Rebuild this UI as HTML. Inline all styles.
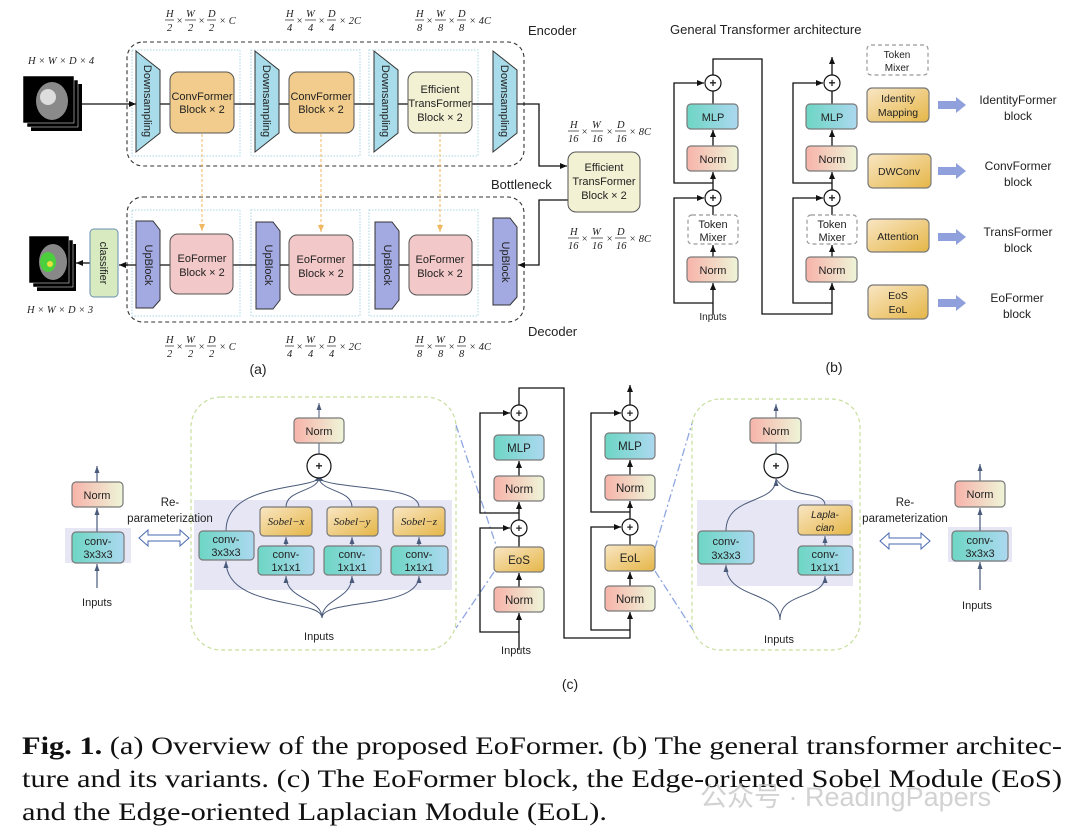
<!DOCTYPE html>
<html><head><meta charset="utf-8"><style>
html,body{margin:0;padding:0;background:#fff;}
svg{display:block;}
.s{font-family:"Liberation Sans",sans-serif;fill:#222;}
.m{font-family:"Liberation Serif",serif;font-style:italic;fill:#222;font-size:10.5px;}
.b{stroke:#7a7a7a;stroke-width:1.2;}
.ln{stroke:#111;stroke-width:1.3;fill:none;}
.fl{stroke:#222;stroke-width:0.7;}
</style></head><body>
<svg width="1080" height="836" viewBox="0 0 1080 836" xmlns="http://www.w3.org/2000/svg">
<defs>
<marker id="ar" markerWidth="8" markerHeight="8" refX="7" refY="4" orient="auto" markerUnits="userSpaceOnUse"><path d="M0,1 L7,4 L0,7 z" fill="#111"/></marker>
<marker id="ag" markerWidth="8" markerHeight="8" refX="7" refY="4" orient="auto" markerUnits="userSpaceOnUse"><path d="M0,1.5 L7,4 L0,6.5 z" fill="#4a5a7a"/></marker>
<marker id="ao" markerWidth="8" markerHeight="8" refX="7" refY="4" orient="auto" markerUnits="userSpaceOnUse"><path d="M0,1 L7,4 L0,7 z" fill="#f0b860"/></marker>
<linearGradient id="gn" x1="0" x2="1"><stop offset="0" stop-color="#f7b3aa"/><stop offset="1" stop-color="#eef5d8"/></linearGradient>
<linearGradient id="gm" x1="0" x2="1"><stop offset="0" stop-color="#6dd6c4"/><stop offset="1" stop-color="#acd8f0"/></linearGradient>
<linearGradient id="go" x1="0" y1="0" x2="1" y2="1"><stop offset="0" stop-color="#f9e6c4"/><stop offset="1" stop-color="#e5b647"/></linearGradient>
</defs>
<rect width="1080" height="836" fill="#fff"/>

<!-- ===== (a) ===== -->
<rect x="127" y="42" width="397" height="124" rx="16" fill="none" stroke="#333" stroke-width="1.1" stroke-dasharray="4,3"/>
<rect x="127" y="197" width="397" height="125" rx="16" fill="none" stroke="#333" stroke-width="1.1" stroke-dasharray="4,3"/>
<g fill="none" stroke="#a9d6e4" stroke-width="1" stroke-dasharray="1.5,1.5">
<rect x="132" y="50" width="108" height="106"/><rect x="251" y="50" width="109" height="106"/><rect x="369" y="50" width="109" height="106"/>
<rect x="132" y="210" width="108" height="106"/><rect x="251" y="210" width="109" height="106"/><rect x="369" y="210" width="109" height="106"/>
</g>
<line x1="82" y1="104" x2="136" y2="104" class="ln" marker-end="url(#ar)"/>
<line x1="160" y1="104" x2="493" y2="104" class="ln"/>
<polyline points="517,104 539,104 539,166 567,166" class="ln" marker-end="url(#ar)"/>
<polyline points="568,200 539,200 539,265 518,265" class="ln" marker-end="url(#ar)"/>
<line x1="160" y1="265" x2="493" y2="265" class="ln"/>
<line x1="136" y1="265" x2="119" y2="265" class="ln" marker-end="url(#ar)"/>
<line x1="90" y1="263" x2="76" y2="263" class="ln" marker-end="url(#ar)"/>
<g fill="#a8dcea" stroke="#333" stroke-width="1">
<path d="M136,51 L160,70 L160,133 L136,152 Z"/><path d="M255,51 L279,70 L279,133 L255,152 Z"/>
<path d="M374,51 L398,70 L398,133 L374,152 Z"/><path d="M493,51 L517,70 L517,133 L493,152 Z"/>
</g>
<g class="s" font-size="11">
<text transform="translate(144,101) rotate(90)" text-anchor="middle">Downsampling</text>
<text transform="translate(263,101) rotate(90)" text-anchor="middle">Downsampling</text>
<text transform="translate(382,101) rotate(90)" text-anchor="middle">Downsampling</text>
<text transform="translate(501,101) rotate(90)" text-anchor="middle">Downsampling</text>
</g>
<g fill="#a3aae2" stroke="#333" stroke-width="1">
<path d="M136,221 L153,221 L160,230 L160,300 L153,308 L136,308 Z"/>
<path d="M256,222 L273,222 L280,231 L280,300 L273,309 L256,309 Z"/>
<path d="M375,222 L392,222 L399,231 L399,300 L392,309 L375,309 Z"/>
<path d="M493,218 L510,218 L517,227 L517,297 L510,305 L493,305 Z"/>
</g>
<g class="s" font-size="11">
<text transform="translate(145,265) rotate(90)" text-anchor="middle">UpBlock</text>
<text transform="translate(265,265) rotate(90)" text-anchor="middle">UpBlock</text>
<text transform="translate(384,265) rotate(90)" text-anchor="middle">UpBlock</text>
<text transform="translate(502,262) rotate(90)" text-anchor="middle">UpBlock</text>
</g>
<rect x="170" y="72" width="64" height="61" rx="8" fill="#f1cc8c" stroke="#555"/>
<rect x="289" y="72" width="65" height="61" rx="8" fill="#f1cc8c" stroke="#555"/>
<rect x="408" y="72" width="64" height="61" rx="8" fill="#f3f1d3" stroke="#555"/>
<g class="s" font-size="11" text-anchor="middle">
<text x="202" y="100">ConvFormer</text><text x="202" y="113">Block × 2</text>
<text x="321" y="100">ConvFormer</text><text x="321" y="113">Block × 2</text>
<text x="440" y="93">Efficient</text><text x="440" y="107">TransFormer</text><text x="440" y="121">Block × 2</text>
</g>
<rect x="170" y="234" width="63" height="60" rx="8" fill="#f3c8c8" stroke="#555"/>
<rect x="289" y="235" width="64" height="60" rx="8" fill="#f3c8c8" stroke="#555"/>
<rect x="409" y="235" width="63" height="60" rx="8" fill="#f3c8c8" stroke="#555"/>
<g class="s" font-size="11" text-anchor="middle">
<text x="202" y="262">EoFormer</text><text x="202" y="276">Block × 2</text>
<text x="321" y="263">EoFormer</text><text x="321" y="277">Block × 2</text>
<text x="440" y="263">EoFormer</text><text x="440" y="277">Block × 2</text>
</g>
<g stroke="#f0b860" stroke-width="1" stroke-dasharray="3,2" fill="none">
<line x1="202" y1="134" x2="202" y2="231" marker-end="url(#ao)"/>
<line x1="321" y1="134" x2="321" y2="232" marker-end="url(#ao)"/>
<line x1="440" y1="134" x2="440" y2="232" marker-end="url(#ao)"/>
</g>
<rect x="568" y="152" width="72" height="60" rx="8" fill="#f3f1d3" stroke="#555"/>
<g class="s" font-size="11" text-anchor="middle">
<text x="604" y="171">Efficient</text><text x="604" y="185">TransFormer</text><text x="604" y="199">Block × 2</text>
</g>
<text x="491" y="189" class="s" font-size="13">Bottleneck</text>
<text x="528" y="35" class="s" font-size="13">Encoder</text>
<text x="528" y="336" class="s" font-size="13">Decoder</text>
<rect x="90" y="229" width="28" height="68" rx="4" fill="#d8ebc0" stroke="#6a8fb0"/>
<text transform="translate(100,263) rotate(90)" class="s" font-size="11" text-anchor="middle">classifier</text>
<g>
<rect x="31" y="84" width="51" height="47" fill="#000"/><rect x="27" y="80" width="51" height="47" fill="#000" stroke="#fff" stroke-width="0.5"/>
<rect x="23" y="76" width="51" height="47" fill="#000" stroke="#fff" stroke-width="0.5"/>
<ellipse cx="52" cy="101" rx="16" ry="19" fill="#8a8a8a"/><ellipse cx="48" cy="97" rx="8" ry="8" fill="#ddd"/>
<rect x="37" y="244" width="39" height="47" fill="#000"/><rect x="33" y="240" width="40" height="47" fill="#000" stroke="#fff" stroke-width="0.5"/>
<rect x="29" y="236" width="40" height="47" fill="#000" stroke="#fff" stroke-width="0.5"/>
<ellipse cx="53" cy="262" rx="14" ry="18" fill="#888"/><ellipse cx="48" cy="262" rx="8" ry="10" fill="#4ccf3c"/><circle cx="50" cy="264" r="3" fill="#e6e040"/>
</g>
<text x="28" y="64" class="m" font-size="11">H × W × D × 4</text>
<text x="27" y="313" class="m" font-size="11">H × W × D × 3</text>
<g class="m">
<g transform="translate(165,8)"><text x="1" y="9">H</text><text x="2" y="23">2</text><line x1="0" y1="12" x2="9" y2="12" class="fl"/><text x="11" y="16">×</text><text x="21" y="9">W</text><text x="23" y="23">2</text><line x1="20" y1="12" x2="31" y2="12" class="fl"/><text x="33" y="16">×</text><text x="43" y="9">D</text><text x="44" y="23">2</text><line x1="42" y1="12" x2="51" y2="12" class="fl"/><text x="54" y="16">× C</text></g>
<g transform="translate(285,8)"><text x="1" y="9">H</text><text x="2" y="23">4</text><line x1="0" y1="12" x2="9" y2="12" class="fl"/><text x="11" y="16">×</text><text x="21" y="9">W</text><text x="23" y="23">4</text><line x1="20" y1="12" x2="31" y2="12" class="fl"/><text x="33" y="16">×</text><text x="43" y="9">D</text><text x="44" y="23">4</text><line x1="42" y1="12" x2="51" y2="12" class="fl"/><text x="54" y="16">× 2C</text></g>
<g transform="translate(415,8)"><text x="1" y="9">H</text><text x="2" y="23">8</text><line x1="0" y1="12" x2="9" y2="12" class="fl"/><text x="11" y="16">×</text><text x="21" y="9">W</text><text x="23" y="23">8</text><line x1="20" y1="12" x2="31" y2="12" class="fl"/><text x="33" y="16">×</text><text x="43" y="9">D</text><text x="44" y="23">8</text><line x1="42" y1="12" x2="51" y2="12" class="fl"/><text x="54" y="16">× 4C</text></g>
<g transform="translate(165,334)"><text x="1" y="9">H</text><text x="2" y="23">2</text><line x1="0" y1="12" x2="9" y2="12" class="fl"/><text x="11" y="16">×</text><text x="21" y="9">W</text><text x="23" y="23">2</text><line x1="20" y1="12" x2="31" y2="12" class="fl"/><text x="33" y="16">×</text><text x="43" y="9">D</text><text x="44" y="23">2</text><line x1="42" y1="12" x2="51" y2="12" class="fl"/><text x="54" y="16">× C</text></g>
<g transform="translate(285,334)"><text x="1" y="9">H</text><text x="2" y="23">4</text><line x1="0" y1="12" x2="9" y2="12" class="fl"/><text x="11" y="16">×</text><text x="21" y="9">W</text><text x="23" y="23">4</text><line x1="20" y1="12" x2="31" y2="12" class="fl"/><text x="33" y="16">×</text><text x="43" y="9">D</text><text x="44" y="23">4</text><line x1="42" y1="12" x2="51" y2="12" class="fl"/><text x="54" y="16">× 2C</text></g>
<g transform="translate(415,334)"><text x="1" y="9">H</text><text x="2" y="23">8</text><line x1="0" y1="12" x2="9" y2="12" class="fl"/><text x="11" y="16">×</text><text x="21" y="9">W</text><text x="23" y="23">8</text><line x1="20" y1="12" x2="31" y2="12" class="fl"/><text x="33" y="16">×</text><text x="43" y="9">D</text><text x="44" y="23">8</text><line x1="42" y1="12" x2="51" y2="12" class="fl"/><text x="54" y="16">× 4C</text></g>
<g transform="translate(568,119)"><text x="2" y="9">H</text><text x="0" y="23">16</text><line x1="0" y1="12" x2="11" y2="12" class="fl"/><text x="13" y="16">×</text><text x="24" y="9">W</text><text x="24" y="23">16</text><line x1="23" y1="12" x2="35" y2="12" class="fl"/><text x="38" y="16">×</text><text x="49" y="9">D</text><text x="48" y="23">16</text><line x1="47" y1="12" x2="58" y2="12" class="fl"/><text x="61" y="16">× 8C</text></g>
<g transform="translate(568,226)"><text x="2" y="9">H</text><text x="0" y="23">16</text><line x1="0" y1="12" x2="11" y2="12" class="fl"/><text x="13" y="16">×</text><text x="24" y="9">W</text><text x="24" y="23">16</text><line x1="23" y1="12" x2="35" y2="12" class="fl"/><text x="38" y="16">×</text><text x="49" y="9">D</text><text x="48" y="23">16</text><line x1="47" y1="12" x2="58" y2="12" class="fl"/><text x="61" y="16">× 8C</text></g>
</g>
<text x="258" y="374" class="s" font-size="14" text-anchor="middle">(a)</text>

<!-- ===== (b) ===== -->
<text x="670" y="34" class="s" font-size="13">General Transformer architecture</text>
<g class="ln">
<line x1="713" y1="315" x2="713" y2="283" marker-end="url(#ar)"/>
<line x1="713" y1="257" x2="713" y2="245" marker-end="url(#ar)"/>
<line x1="713" y1="215" x2="713" y2="206"/>
<line x1="713" y1="190" x2="713" y2="172" marker-end="url(#ar)"/>
<line x1="713" y1="146" x2="713" y2="130" marker-end="url(#ar)"/>
<line x1="713" y1="104" x2="713" y2="91"/>
<polyline points="713,303 674,303 674,198 704,198" marker-end="url(#ar)"/>
<polyline points="713,183 674,183 674,83 704,83" marker-end="url(#ar)"/>
<polyline points="713,75 713,59 762,59 762,314 832,314 832,283" marker-end="url(#ar)"/>
<line x1="832" y1="257" x2="832" y2="245" marker-end="url(#ar)"/>
<line x1="832" y1="215" x2="832" y2="206"/>
<line x1="832" y1="190" x2="832" y2="172" marker-end="url(#ar)"/>
<line x1="832" y1="146" x2="832" y2="130" marker-end="url(#ar)"/>
<line x1="832" y1="104" x2="832" y2="91"/>
<line x1="832" y1="75" x2="832" y2="57" marker-end="url(#ar)"/>
<polyline points="832,303 793,303 793,198 823,198" marker-end="url(#ar)"/>
<polyline points="832,183 793,183 793,83 823,83" marker-end="url(#ar)"/>
</g>
<g stroke="#111" stroke-width="1.2" fill="#fff">
<circle cx="713" cy="83" r="8"/><circle cx="713" cy="198" r="8"/><circle cx="832" cy="83" r="8"/><circle cx="832" cy="198" r="8"/>
</g>
<g class="s" font-size="12" text-anchor="middle" font-weight="bold"><text x="713" y="87">+</text><text x="713" y="202">+</text><text x="832" y="87">+</text><text x="832" y="202">+</text></g>
<g class="b">
<rect x="687" y="104" width="51" height="25" rx="4" fill="url(#gm)"/><rect x="687" y="146" width="51" height="25" rx="4" fill="url(#gn)"/><rect x="687" y="257" width="51" height="25" rx="4" fill="url(#gn)"/>
<rect x="806" y="104" width="51" height="25" rx="4" fill="url(#gm)"/><rect x="806" y="146" width="51" height="25" rx="4" fill="url(#gn)"/><rect x="806" y="257" width="51" height="25" rx="4" fill="url(#gn)"/>
</g>
<g fill="#fff" stroke="#999" stroke-width="1.2" stroke-dasharray="4,3">
<rect x="688" y="215" width="50" height="29" rx="4"/><rect x="807" y="215" width="50" height="29" rx="4"/><rect x="867" y="45" width="61" height="30" rx="4"/>
</g>
<g class="s" font-size="11" text-anchor="middle">
<text x="713" y="121">MLP</text><text x="713" y="163">Norm</text><text x="713" y="274">Norm</text>
<text x="713" y="228">Token</text><text x="713" y="241">Mixer</text>
<text x="832" y="121">MLP</text><text x="832" y="163">Norm</text><text x="832" y="274">Norm</text>
<text x="832" y="228">Token</text><text x="832" y="241">Mixer</text>
<text x="713" y="320" font-size="10">Inputs</text>
<text x="897" y="58" font-size="10">Token</text><text x="897" y="71" font-size="10">Mixer</text>
</g>
<g class="b"><rect x="867" y="88" width="62" height="34" rx="5" fill="url(#go)"/><rect x="868" y="154" width="63" height="34" rx="5" fill="url(#go)"/><rect x="867" y="219" width="62" height="33" rx="5" fill="url(#go)"/><rect x="868" y="285" width="60" height="34" rx="5" fill="url(#go)"/></g>
<g class="s" font-size="10.5" text-anchor="middle">
<text x="898" y="102">Identity</text><text x="898" y="116">Mapping</text>
<text x="899" y="175">DWConv</text><text x="898" y="240">Attention</text>
<text x="898" y="299">EoS</text><text x="898" y="313">EoL</text>
</g>
<g fill="#8fa0dc">
<path d="M938,101 L956,101 L956,97 L966,105 L956,113 L956,109 L938,109 Z"/>
<path d="M938,167 L956,167 L956,163 L966,171 L956,179 L956,175 L938,175 Z"/>
<path d="M938,233 L956,233 L956,229 L966,237 L956,245 L956,241 L938,241 Z"/>
<path d="M938,299 L956,299 L956,295 L966,303 L956,311 L956,307 L938,307 Z"/>
</g>
<g class="s" font-size="12" text-anchor="middle">
<text x="1018" y="104">IdentityFormer</text><text x="1018" y="120">block</text>
<text x="1018" y="170">ConvFormer</text><text x="1018" y="186">block</text>
<text x="1018" y="236">TransFormer</text><text x="1018" y="252">block</text>
<text x="1017" y="302">EoFormer</text><text x="1017" y="318">block</text>
</g>
<text x="834" y="372" class="s" font-size="14" text-anchor="middle">(b)</text>

<!-- ===== (c) ===== -->
<rect x="65" y="528" width="66" height="35" fill="#e6e6f5"/>
<g stroke="#4a5a7a" stroke-width="1.2" fill="none">
<line x1="97" y1="588" x2="97" y2="564" marker-end="url(#ag)"/>
<line x1="97" y1="532" x2="97" y2="508" marker-end="url(#ag)"/>
<line x1="97" y1="482" x2="97" y2="466" marker-end="url(#ag)"/>
</g>
<rect x="72" y="482" width="51" height="25" rx="4" fill="url(#gn)" class="b"/>
<rect x="72" y="532" width="52" height="31" rx="4" fill="url(#gm)" class="b"/>
<g class="s" font-size="11" text-anchor="middle"><text x="97" y="499">Norm</text><text x="98" y="545">conv-</text><text x="98" y="558">3x3x3</text><text x="97" y="606">Inputs</text></g>
<path d="M139,538 L148,530 L148,535 L180,535 L180,530 L189,538 L180,546 L180,541 L148,541 L148,546 Z" fill="#fff" stroke="#4a6ab0" stroke-width="1"/>
<path d="M880,541 L889,533 L889,538 L921,538 L921,533 L930,541 L921,549 L921,544 L889,544 L889,549 Z" fill="#fff" stroke="#4a6ab0" stroke-width="1"/>

<rect x="191" y="397" width="265" height="253" rx="30" fill="none" stroke="#c7de9c" stroke-width="1.2" stroke-dasharray="4,3"/>
<rect x="194" y="500" width="258" height="90" fill="#e6e6f5"/>
<g stroke="#4a5a7a" stroke-width="1" fill="none">
<path d="M322,618 C322,598 226,610 226,561" marker-end="url(#ag)"/>
<path d="M322,618 C322,598 286,600 286,576" marker-end="url(#ag)"/>
<path d="M322,618 C322,598 352,600 352,576" marker-end="url(#ag)"/>
<path d="M322,618 C322,598 419,610 419,576" marker-end="url(#ag)"/>
<path d="M226,531 C226,485 300,490 319,479"/>
<path d="M286,507 C286,490 315,492 319,479"/>
<path d="M352,507 C352,490 323,492 319,479"/>
<path d="M419,507 C419,485 338,490 319,479"/>
<line x1="286" y1="546" x2="286" y2="537" marker-end="url(#ag)"/>
<line x1="352" y1="546" x2="352" y2="537" marker-end="url(#ag)"/>
<line x1="419" y1="546" x2="419" y2="537" marker-end="url(#ag)"/>
<line x1="319" y1="454" x2="319" y2="443"/>
<line x1="319" y1="418" x2="319" y2="403" marker-end="url(#ag)"/>
</g>
<path d="M314,481 L324,481 L319,476 Z" fill="#4a5a7a"/>
<rect x="294" y="418" width="50" height="25" rx="4" fill="url(#gn)" class="b"/>
<circle cx="319" cy="466" r="12" fill="#fff" stroke="#111" stroke-width="1.2"/>
<rect x="199" y="531" width="55" height="29" rx="4" fill="url(#gm)" class="b"/>
<g class="b">
<rect x="260" y="507" width="52" height="29" rx="4" fill="url(#go)"/><rect x="327" y="507" width="51" height="29" rx="4" fill="url(#go)"/><rect x="393" y="507" width="52" height="29" rx="4" fill="url(#go)"/>
<rect x="258" y="546" width="56" height="29" rx="4" fill="url(#gm)"/><rect x="324" y="546" width="57" height="29" rx="4" fill="url(#gm)"/><rect x="391" y="546" width="57" height="29" rx="4" fill="url(#gm)"/>
</g>
<g class="s" font-size="11" text-anchor="middle">
<text x="319" y="435">Norm</text><text x="319" y="470" font-weight="bold" font-size="12">+</text>
<text x="226" y="543">conv-</text><text x="226" y="556">3x3x3</text>
<text x="286" y="558">conv-</text><text x="286" y="571">1x1x1</text>
<text x="352" y="558">conv-</text><text x="352" y="571">1x1x1</text>
<text x="419" y="558">conv-</text><text x="419" y="571">1x1x1</text>
<text x="319" y="640">Inputs</text>
</g>
<g font-family="Liberation Serif,serif" font-style="italic" font-size="11" fill="#222" text-anchor="middle">
<text x="286" y="525">Sobel−x</text><text x="352" y="525">Sobel−y</text><text x="419" y="525">Sobel−z</text>
</g>
<g stroke="#8fa6e0" stroke-width="1.3" stroke-dasharray="8,3,2,3" fill="none">
<line x1="456" y1="425" x2="497" y2="548"/><line x1="494" y1="572" x2="456" y2="628"/>
<line x1="655" y1="548" x2="693" y2="420"/><line x1="655" y1="571" x2="693" y2="630"/>
</g>

<g class="ln">
<line x1="519" y1="650" x2="519" y2="613" marker-end="url(#ar)"/>
<line x1="519" y1="587" x2="519" y2="573" marker-end="url(#ar)"/>
<line x1="519" y1="547" x2="519" y2="536"/>
<line x1="519" y1="520" x2="519" y2="502" marker-end="url(#ar)"/>
<line x1="519" y1="476" x2="519" y2="461" marker-end="url(#ar)"/>
<line x1="519" y1="435" x2="519" y2="421"/>
<polyline points="519,632 480,632 480,528 510,528" marker-end="url(#ar)"/>
<polyline points="519,513 480,513 480,413 510,413" marker-end="url(#ar)"/>
<polyline points="519,405 519,388 564,388 564,638 630,638 630,612" marker-end="url(#ar)"/>
<line x1="630" y1="586" x2="630" y2="572" marker-end="url(#ar)"/>
<line x1="630" y1="545" x2="630" y2="535"/>
<line x1="630" y1="519" x2="630" y2="501" marker-end="url(#ar)"/>
<line x1="630" y1="475" x2="630" y2="460" marker-end="url(#ar)"/>
<line x1="630" y1="433" x2="630" y2="421"/>
<line x1="630" y1="405" x2="630" y2="385" marker-end="url(#ar)"/>
<polyline points="630,630 591,630 591,527 621,527" marker-end="url(#ar)"/>
<polyline points="630,512 591,512 591,413 621,413" marker-end="url(#ar)"/>
</g>
<g stroke="#111" stroke-width="1.2" fill="#fff">
<circle cx="519" cy="413" r="8"/><circle cx="519" cy="528" r="8"/><circle cx="630" cy="413" r="8"/><circle cx="630" cy="527" r="8"/>
</g>
<g class="b">
<rect x="494" y="435" width="50" height="25" rx="4" fill="url(#gm)"/><rect x="494" y="476" width="50" height="25" rx="4" fill="url(#gn)"/>
<rect x="494" y="547" width="50" height="25" rx="4" fill="url(#go)"/><rect x="494" y="587" width="50" height="25" rx="4" fill="url(#gn)"/>
<rect x="605" y="433" width="50" height="26" rx="4" fill="url(#gm)"/><rect x="605" y="475" width="50" height="25" rx="4" fill="url(#gn)"/>
<rect x="605" y="545" width="50" height="26" rx="4" fill="url(#go)"/><rect x="605" y="586" width="50" height="25" rx="4" fill="url(#gn)"/>
</g>
<g class="s" font-size="11.5" text-anchor="middle">
<text x="519" y="417" font-size="11" font-weight="bold">+</text><text x="519" y="532" font-size="11" font-weight="bold">+</text>
<text x="630" y="417" font-size="11" font-weight="bold">+</text><text x="630" y="531" font-size="11" font-weight="bold">+</text>
<text x="519" y="452">MLP</text><text x="519" y="493">Norm</text><text x="519" y="564">EoS</text><text x="519" y="604">Norm</text>
<text x="630" y="450">MLP</text><text x="630" y="492">Norm</text><text x="630" y="562">EoL</text><text x="630" y="603">Norm</text>
<text x="516" y="654" font-size="11">Inputs</text>
<text x="570" y="689" font-size="14">(c)</text>
</g>

<rect x="692" y="399" width="168" height="251" rx="28" fill="none" stroke="#c7de9c" stroke-width="1.2" stroke-dasharray="4,3"/>
<rect x="697" y="500" width="156" height="86" fill="#e6e6f5"/>
<g stroke="#4a5a7a" stroke-width="1" fill="none">
<path d="M780,620 C780,590 726,600 726,565" marker-end="url(#ag)"/>
<path d="M780,620 C780,590 825,600 825,576" marker-end="url(#ag)"/>
<path d="M726,531 C726,495 776,505 776,479" marker-end="url(#ag)"/>
<path d="M825,505 C825,490 790,500 776,479"/>
<line x1="825" y1="546" x2="825" y2="536" marker-end="url(#ag)"/>
<line x1="776" y1="454" x2="776" y2="443"/>
<line x1="776" y1="418" x2="776" y2="404" marker-end="url(#ag)"/>
</g>
<rect x="750" y="418" width="51" height="25" rx="4" fill="url(#gn)" class="b"/>
<circle cx="776" cy="466" r="12" fill="#fff" stroke="#111" stroke-width="1.2"/>
<rect x="698" y="531" width="56" height="33" rx="4" fill="url(#gm)" class="b"/>
<rect x="798" y="505" width="54" height="30" rx="4" fill="url(#go)" class="b"/>
<rect x="798" y="546" width="55" height="29" rx="4" fill="url(#gm)" class="b"/>
<g class="s" font-size="11" text-anchor="middle">
<text x="776" y="435">Norm</text><text x="776" y="470" font-weight="bold" font-size="12">+</text>
<text x="726" y="545">conv-</text><text x="726" y="559">3x3x3</text>
<text x="825" y="558">conv-</text><text x="825" y="571">1x1x1</text>
<text x="825" y="518" font-style="italic" font-size="10">Lapla-</text><text x="825" y="531" font-style="italic" font-size="10">cian</text>
<text x="779" y="643">Inputs</text>
</g>
<rect x="948" y="527" width="64" height="35" fill="#e6e6f5"/>
<g stroke="#4a5a7a" stroke-width="1.2" fill="none">
<line x1="980" y1="590" x2="980" y2="562" marker-end="url(#ag)"/>
<line x1="980" y1="531" x2="980" y2="508" marker-end="url(#ag)"/>
<line x1="980" y1="481" x2="980" y2="464" marker-end="url(#ag)"/>
</g>
<rect x="955" y="481" width="50" height="26" rx="4" fill="url(#gn)" class="b"/>
<rect x="952" y="531" width="56" height="30" rx="4" fill="url(#gm)" class="b"/>
<g class="s" font-size="11" text-anchor="middle"><text x="980" y="498">Norm</text><text x="980" y="544">conv-</text><text x="980" y="557">3x3x3</text><text x="977" y="609">Inputs</text></g>

<!-- Re-parameterization labels drawn on top -->
<g class="s" font-size="11.5" text-anchor="middle">
<text x="170" y="506">Re-</text><text x="170" y="522">parameterization</text>
<text x="905" y="506">Re-</text><text x="905" y="522">parameterization</text>
</g>

<!-- caption -->
<g font-family="Liberation Serif,serif" font-size="25" fill="#111">
<text x="22" y="754" textLength="1040" lengthAdjust="spacingAndGlyphs"><tspan font-weight="bold">Fig. 1.</tspan> (a) Overview of the proposed EoFormer. (b) The general transformer architec-</text>
<text x="22" y="787" textLength="1040" lengthAdjust="spacingAndGlyphs">ture and its variants. (c) The EoFormer block, the Edge-oriented Sobel Module (EoS)</text>
<text x="22" y="820" textLength="585" lengthAdjust="spacingAndGlyphs">and the Edge-oriented Laplacian Module (EoL).</text>
</g>
<text x="700" y="806" font-family="Liberation Sans,Noto Sans CJK SC,sans-serif" font-size="27" fill="#c4c4c4" opacity="0.75">公众号 · ReadingPapers</text>
</svg>
</body></html>
